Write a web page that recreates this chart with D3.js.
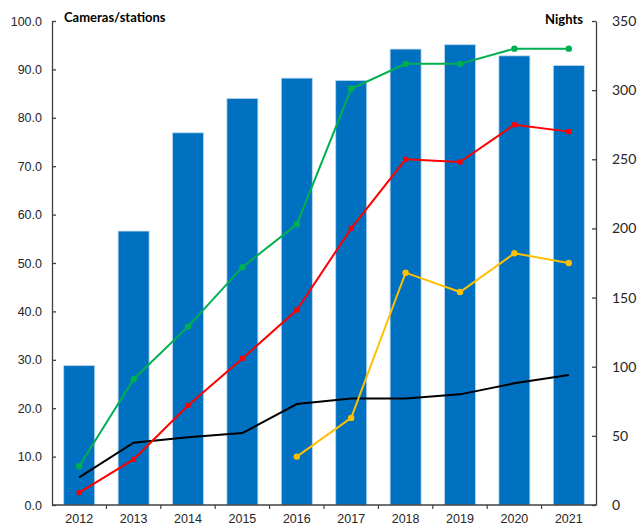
<!DOCTYPE html>
<html>
<head>
<meta charset="utf-8">
<script src="https://cdn.jsdelivr.net/npm/d3@7"></script>
<style>
  body { margin: 0; background: #fff; }
</style>
</head>
<body>
<div id="chart"></div>
<script>
const years = ['2012', '2013', '2014', '2015', '2016', '2017', '2018', '2019', '2020', '2021']
const cameras = [28.8, 56.6, 76.9, 84.0, 88.2, 87.7, 94.2, 95.1, 92.8, 90.8]
const nightsGreen = [28, 91, 129, 172, 203, 301, 319, 319, 330, 330]
const nightsRed = [9, 33, 72, 106, 141, 200, 250, 248, 275, 270]
const nightsYellow = [null, null, null, null, 35, 63, 168, 154, 182, 175]
const nightsBlack = [20, 45, 49, 52, 73, 77, 77, 80, 88, 94]
const leftTicks = [0, 10, 20, 30, 40, 50, 60, 70, 80, 90, 100]
const rightTicks = [0, 50, 100, 150, 200, 250, 300, 350]

const width = 638
const height = 526
const margin = { top: 21, right: 42, bottom: 21, left: 52 }

const svg = d3.select('#chart')
  .append('svg')
  .attr('width', width)
  .attr('height', height)

const x = d3.scaleBand()
  .domain(years)
  .range([margin.left, width - margin.right])
  .paddingInner(0.43)
  .paddingOuter(0.215)

const yLeft = d3.scaleLinear()
  .domain([0, 100])
  .range([height - margin.bottom, margin.top])

const yRight = d3.scaleLinear()
  .domain([0, 350])
  .range([height - margin.bottom, margin.top])

// bars
svg.append('g')
  .selectAll('rect')
  .data(years)
  .join('rect')
  .attr('x', d => x(d))
  .attr('y', (d, i) => yLeft(cameras[i]))
  .attr('width', x.bandwidth())
  .attr('height', (d, i) => yLeft(0) - yLeft(cameras[i]))
  .attr('fill', '#0070C0')
  .attr('stroke', '#BDD7EE')
  .attr('stroke-width', 0.8)

const cx = d => x(d) + x.bandwidth() / 2

function drawLine(values, color, marker) {
  const pts = years.map((y, i) => ({ y, v: values[i] })).filter(d => d.v !== null)
  const line = d3.line().x(d => cx(d.y)).y(d => yRight(d.v))
  svg.append('path')
    .datum(pts)
    .attr('d', line)
    .attr('fill', 'none')
    .attr('stroke', color)
    .attr('stroke-width', 2)
  if (marker === 'circle') {
    svg.append('g')
      .selectAll('circle')
      .data(pts)
      .join('circle')
      .attr('cx', d => cx(d.y))
      .attr('cy', d => yRight(d.v))
      .attr('r', 3.2)
      .attr('fill', color)
  } else if (marker === 'square') {
    svg.append('g')
      .selectAll('rect')
      .data(pts)
      .join('rect')
      .attr('x', d => cx(d.y) - 2.5)
      .attr('y', d => yRight(d.v) - 2.5)
      .attr('width', 5)
      .attr('height', 5)
      .attr('fill', color)
  }
}

drawLine(nightsBlack, '#000000', null)
drawLine(nightsGreen, '#00B050', 'circle')
drawLine(nightsRed, '#FF0000', 'square')
drawLine(nightsYellow, '#FFC000', 'circle')

// left axis
const leftAxis = svg.append('g')
  .attr('transform', `translate(${margin.left},0)`)
  .call(d3.axisLeft(yLeft).tickValues(leftTicks).tickFormat(d3.format('.1f')).tickSizeInner(-4).tickSizeOuter(0).tickPadding(10))
leftAxis.selectAll('text')
  .attr('font-family', '"Liberation Sans", Arial, sans-serif')
  .attr('font-size', '12.5px')
  .attr('fill', '#262626')
leftAxis.selectAll('line, path').attr('stroke', '#404040').attr('stroke-width', 1.3)

// right axis
const rightAxis = svg.append('g')
  .attr('transform', `translate(${width - margin.right},0)`)
  .call(d3.axisRight(yRight).tickValues(rightTicks).tickSizeInner(-4).tickSizeOuter(0).tickPadding(16))
rightAxis.selectAll('text')
  .attr('font-family', 'Lato, "Open Sans", sans-serif')
  .attr('font-size', '14px')
  .attr('fill', '#262626')
rightAxis.selectAll('line, path').attr('stroke', '#404040').attr('stroke-width', 1.3)

// bottom axis
const bottom = svg.append('g')
  .attr('transform', `translate(0,${height - margin.bottom})`)
bottom.append('line')
  .attr('x1', margin.left)
  .attr('x2', width - margin.right)
  .attr('stroke', '#404040')
  .attr('stroke-width', 1.3)
bottom.selectAll('line.tick')
  .data(years.slice(1))
  .join('line')
  .attr('class', 'tick')
  .attr('x1', d => x(d) - x.step() * x.paddingInner() / 2)
  .attr('x2', d => x(d) - x.step() * x.paddingInner() / 2)
  .attr('y1', 0)
  .attr('y2', 4)
  .attr('stroke', '#404040')
  .attr('stroke-width', 1.2)
bottom.selectAll('text')
  .data(years)
  .join('text')
  .attr('x', d => cx(d))
  .attr('y', 18)
  .attr('text-anchor', 'middle')
  .attr('font-family', '"Liberation Sans", Arial, sans-serif')
  .attr('font-size', '12.5px')
  .attr('fill', '#262626')
  .text(d => d)

// axis titles
svg.append('text')
  .attr('x', 64)
  .attr('y', 22)
  .attr('font-family', 'Lato, "Open Sans", sans-serif')
  .attr('font-weight', 700)
  .attr('font-size', '13px')
  .attr('fill', '#000')
  .text('Cameras/stations')

svg.append('text')
  .attr('x', 583)
  .attr('y', 24)
  .attr('text-anchor', 'end')
  .attr('font-family', 'Lato, "Open Sans", sans-serif')
  .attr('font-weight', 700)
  .attr('font-size', '13px')
  .attr('fill', '#000')
  .text('Nights')
</script>
</body>
</html>
